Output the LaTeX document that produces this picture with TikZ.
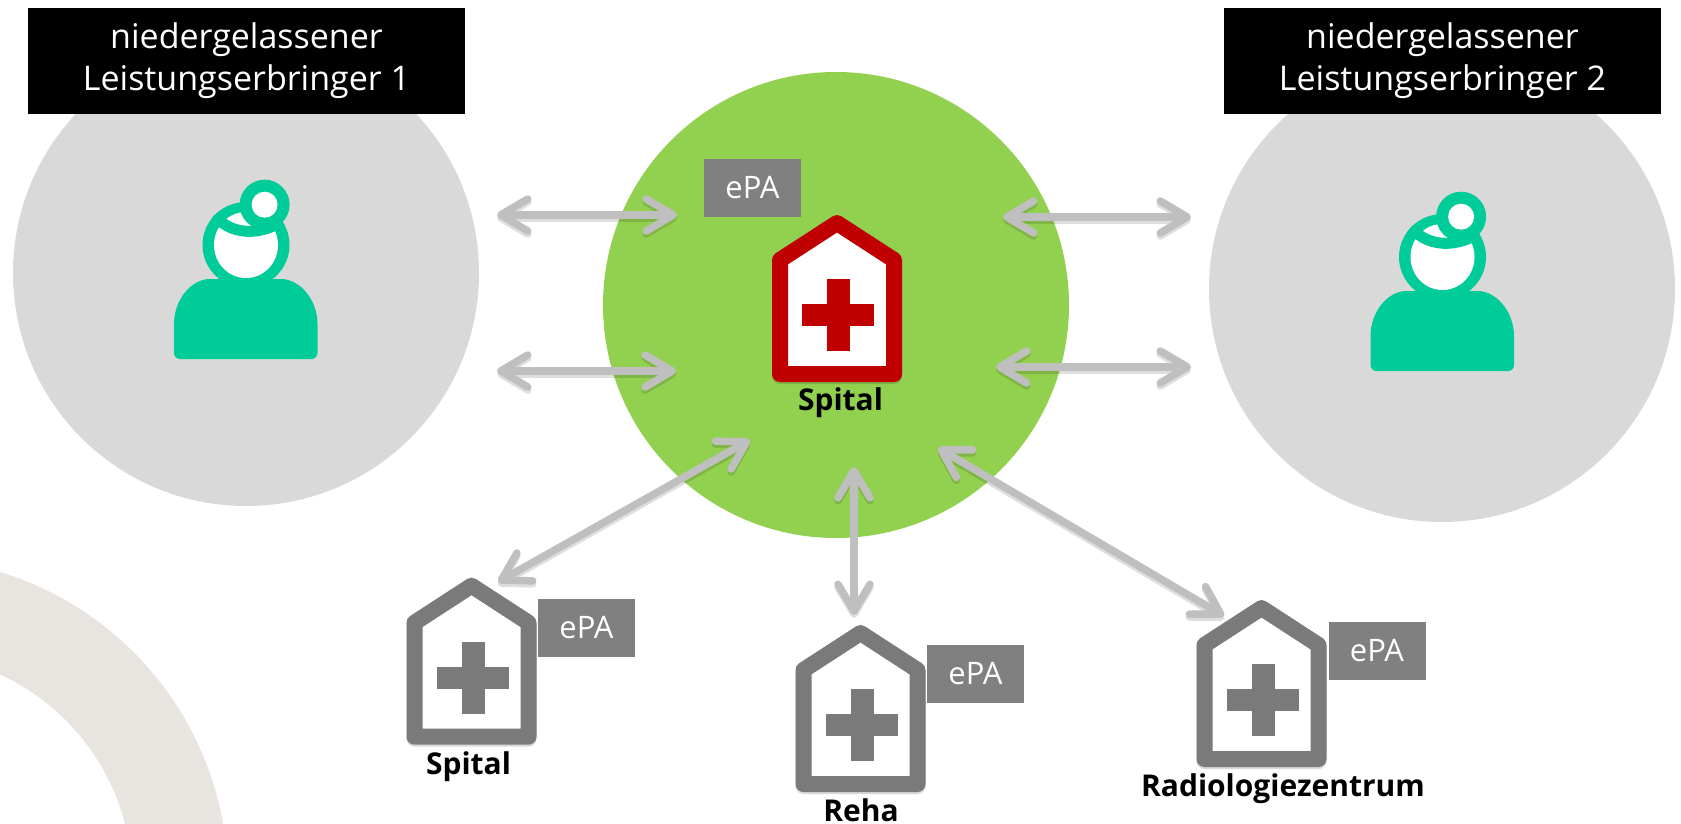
\documentclass[tikz,border=0pt]{standalone}
\usepackage{fontspec}
\setmainfont{Open Sans}
\usetikzlibrary{arrows.meta,shapes.geometric}
\definecolor{teal1}{HTML}{00CC99}
\definecolor{green1}{HTML}{92D050}
\definecolor{gray1}{HTML}{D9D9D9}
\definecolor{arrowgray}{HTML}{BFBFBF}
\definecolor{boxgray}{HTML}{808080}
\definecolor{housegray}{HTML}{7A7A7A}
\definecolor{red1}{HTML}{C00000}
\definecolor{beige1}{HTML}{E8E5E0}
\tikzset{
  bigcircle/.style={circle,inner sep=0pt,minimum size=466pt,fill=#1},
  titlebox/.style={fill=black,text=white,inner sep=0pt,minimum width=437pt,minimum height=106pt,
    align=center,font=\fontsize{34}{42}\selectfont},
  epabox/.style={fill=boxgray,text=white,inner sep=0pt,minimum width=97pt,minimum height=58pt,
    font=\fontsize{31}{36}\selectfont},
  lbl/.style={inner sep=0pt,anchor=base,font=\fontsize{30}{36}\selectfont\bfseries},
  link/.style={draw=arrowgray,line width=7.5pt,
    {Straight Barb[round,length=27pt,width=32pt]}-{Straight Barb[round,length=27pt,width=32pt]}},
  linkshadow/.style={link,draw=black,opacity=.13,transform canvas={yshift=-3pt}},
}
% house: #1 name, #2 x of outer left, #3 y of outer top, #4 colour
\newcommand{\myhouse}[4]{%
  \begin{scope}[shift={(#2,#3)}]
    \draw[black,opacity=.15,line width=16pt,line join=round,fill=black] (8,47) -- (65,10) -- (122,47) -- (122,161) -- (8,161) -- cycle;
    \draw[#4,line width=16pt,line join=round,fill=white] (8,45) -- (65,8) -- (122,45) -- (122,159) -- (8,159) -- cycle;
    \fill[#4] (55,64) rectangle (78,136);
    \fill[#4] (30,89) rectangle (102,111);
    \coordinate (#1) at (65,83);
  \end{scope}}
% doctor: #1 x offset, #2 y offset
\newcommand{\mydoctor}[2]{%
  \begin{scope}[shift={(#1,#2)}]
    \fill[teal1] (246,245) ellipse [x radius=43.5pt,y radius=43pt];
    \fill[white] (246,245) ellipse [x radius=32pt,y radius=33pt];
    \begin{scope}
      \clip (246,245) ellipse [x radius=43.5pt,y radius=43pt];
      \draw[teal1,line width=11pt] (212,212) .. controls (228,236) and (262,238) .. (290,216);
    \end{scope}
    \fill[teal1] (264.6,204.7) circle (25pt);
    \fill[white] (264.6,204.7) circle (13pt);
    \fill[teal1,rounded corners=6pt] (174,359) -- (317.5,359) -- (317.5,330) .. controls (317.5,300) and (300,279) .. (275,279) -- (216,279) .. controls (191,279) and (174,300) .. (174,330) -- cycle;
  \end{scope}}
\begin{document}
\begin{tikzpicture}[x=1pt,y=-1pt]
\useasboundingbox (0,0) rectangle (1681,824);
\fill[white] (0,0) rectangle (1681,824);
\begin{scope}
  \clip (0,0) rectangle (1681,824);
  \fill[beige1,even odd rule] (-94,880) circle (322pt) (-94,880) circle (226pt);
\end{scope}
\node[bigcircle=gray1] (gp1) at (246,273) {};
\node[bigcircle=gray1] (gp2) at (1442,289) {};
\node[bigcircle=green1] (hub) at (836,305) {};
\mydoctor{0}{0}
\mydoctor{1196.5}{12}
\node[titlebox] (t1) at (246.5,61) {niedergelassener\\Leistungserbringer 1};
\node[titlebox] (t2) at (1442.5,61) {niedergelassener\\Leistungserbringer 2};
\myhouse{hmain}{772}{215}{red1}
\myhouse{hs}{406.5}{577.7}{housegray}
\myhouse{hr}{795.5}{625}{housegray}
\myhouse{hz}{1196.5}{600}{housegray}
\node[epabox] (e0) at (752.5,187.5) {ePA};
\node[epabox] (e1) at (586.5,627.5) {ePA};
\node[epabox] (e2) at (975.5,674) {ePA};
\node[epabox] (e3) at (1377,651) {ePA};
\node[lbl] (l0) at (840.5,410) {Spital};
\node[lbl] (l1) at (468.5,774) {Spital};
\node[lbl] (l2) at (861,821) {Reha};
\node[lbl] (l3) at (1283,796.5) {Radiologiezentrum};
\coordinate (a1) at (497,215); \coordinate (b1) at (677,215);
\coordinate (a2) at (497,371); \coordinate (b2) at (676,371);
\coordinate (a3) at (1003,217); \coordinate (b3) at (1191,217);
\coordinate (a4) at (996,367); \coordinate (b4) at (1191,367);
\coordinate (a5) at (750,440); \coordinate (b5) at (498,582);
\coordinate (a6) at (854,467); \coordinate (b6) at (854,615);
\coordinate (a7) at (938,448); \coordinate (b7) at (1224,616);
\foreach \i in {1,...,7}{\draw[linkshadow] (a\i) -- (b\i);}
\foreach \i in {1,...,7}{\draw[link] (a\i) -- (b\i);}
\end{tikzpicture}
\end{document}
